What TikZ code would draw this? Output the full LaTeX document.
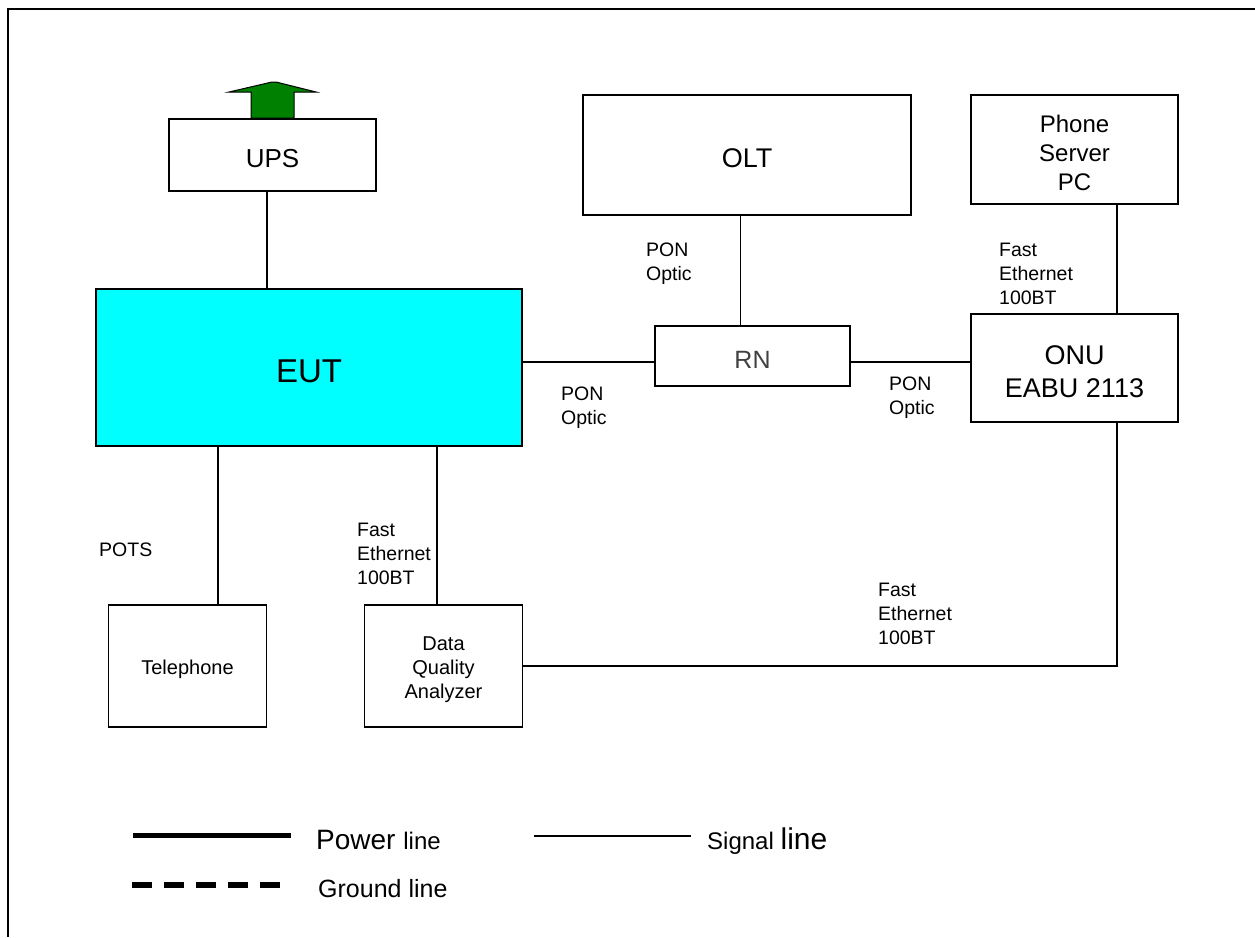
\documentclass[tikz,border=0pt]{standalone}
\usepackage{fontspec}
\setmainfont{Liberation Sans}
\definecolor{eutcyan}{rgb}{0,1,1}
\definecolor{upsgreen}{RGB}{0,128,0}
\begin{document}
\begin{tikzpicture}[x=1pt,y=-1pt,
  box/.style={draw, line width=1.6pt, inner sep=0pt},
  txt/.style={inner sep=0pt, align=center, yshift=-3.5pt},
  conn/.style={line width=1.6pt},
  lbl/.style={anchor=north west, align=left, inner sep=0pt, font=\fontsize{19.5}{24}\selectfont}]
\useasboundingbox (0,0) rectangle (1255,937);
\draw[line width=2pt] (1255,9) -- (8,9) -- (8,937);

% boxes
\node[box, minimum width=207, minimum height=72] (UPS) at (272.5,155) {};
\node[box, fill=eutcyan, minimum width=426, minimum height=157] (EUT) at (309,367.5) {};
\node[box, minimum width=328, minimum height=120] (OLT) at (747,155) {};
\node[box, minimum width=207, minimum height=109] (PSPC) at (1074.5,149.5) {};
\node[box, minimum width=195, minimum height=60] (RN) at (752.5,356) {};
\node[box, minimum width=207, minimum height=108] (ONU) at (1074.5,368) {};
\node[box, minimum width=158, minimum height=122] (TEL) at (187.5,666) {};
\node[box, minimum width=158, minimum height=122] (DQA) at (443.5,666) {};

% box texts
\node[txt, font=\fontsize{26}{30}\selectfont] (UPSt) at (UPS.center) {UPS};
\node[txt, font=\fontsize{33}{38}\selectfont] (EUTt) at (EUT.center) {EUT};
\node[txt, font=\fontsize{27}{30}\selectfont] (OLTt) at (OLT.center) {OLT};
\node[txt, font=\fontsize{24}{29}\selectfont] (PSPCt) at (PSPC.center) {Phone\\Server\\PC};
\node[txt, text=black!75, font=\fontsize{25}{30}\selectfont] (RNt) at (RN.center) {RN};
\node[txt, font=\fontsize{27}{33}\selectfont] (ONUt) at (ONU.center) {ONU\\EABU 2113};
\node[txt, font=\fontsize{20}{24}\selectfont] (TELt) at (TEL.center) {Telephone};
\node[txt, font=\fontsize{20}{24}\selectfont] (DQAt) at (DQA.center) {Data\\Quality\\Analyzer};

% green arrow on UPS
\filldraw[fill=upsgreen, draw=black, line width=1pt]
  (UPS.north -| 251,0) -- (251,92) -- (229,92) -- (272,82) -- (276,82) -- (316,92) -- (294,92) -- (UPS.north -| 294,0) -- cycle;

% connector coordinates
\coordinate (xups) at (267,0);
\coordinate (yrn) at (0,362);
\coordinate (xolt) at (740.5,0);
\coordinate (xonu) at (1117,0);
\coordinate (xtel) at (218,0);
\coordinate (xdqa) at (437,0);

\draw[conn] (UPS.south -| xups) -- (EUT.north -| xups);
\draw[conn] (EUT.east |- yrn) -- (RN.west |- yrn);
\draw[conn] (RN.east |- yrn) -- (ONU.west |- yrn);
\draw[conn] (OLT.south -| xolt) -- (RN.north -| xolt);
\draw[conn] (PSPC.south -| xonu) -- (ONU.north -| xonu);
\draw[conn] (ONU.south -| xonu) |- (DQA.east);
\draw[conn] (EUT.south -| xtel) -- (TEL.north -| xtel);
\draw[conn] (EUT.south -| xdqa) -- (DQA.north -| xdqa);

% labels
\node[lbl] (l1) at (646,243) {PON\\Optic};
\node[lbl] (l2) at (561,387) {PON\\Optic};
\node[lbl] (l3) at (889,377) {PON\\Optic};
\node[lbl] (l4) at (999,243) {Fast\\Ethernet\\100BT};
\node[lbl] (l5) at (99,543) {POTS};
\node[lbl] (l6) at (357,523) {Fast\\Ethernet\\100BT};
\node[lbl] (l7) at (878,583) {Fast\\Ethernet\\100BT};

% legend
\draw[line width=5pt] (133,835) -- (291,835);
\node[anchor=base west, inner sep=0pt] (pw) at (316,849) {\fontsize{28}{30}\selectfont Power \fontsize{24}{26}\selectfont line};
\draw[line width=1.3pt] (534,836) -- (691,836);
\node[anchor=base west, inner sep=0pt] (sg) at (707,849) {\fontsize{24}{26}\selectfont Signal \fontsize{30}{32}\selectfont line};
\draw[line width=6pt, dash pattern=on 20pt off 12pt] (132,885) -- (280,885);
\node[anchor=base west, inner sep=0pt] (gd) at (318,897) {\fontsize{25}{28}\selectfont Ground line};
\end{tikzpicture}
\end{document}
